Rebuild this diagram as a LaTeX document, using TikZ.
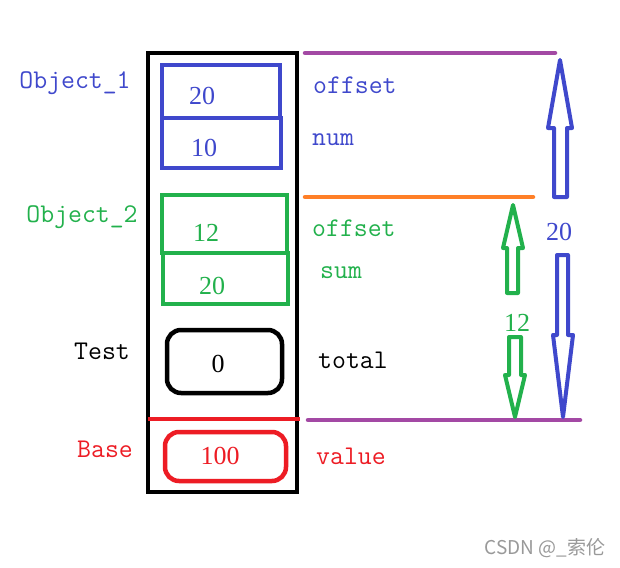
\documentclass[tikz,border=0pt]{standalone}
\usepackage{fontspec}
\newfontfamily\numfont{Liberation Serif}
\newfontfamily\cjk{Noto Sans CJK SC}
\definecolor{pblue}{HTML}{3F48CC}
\definecolor{pgreen}{HTML}{22B14C}
\definecolor{pred}{HTML}{ED1C24}
\definecolor{ppurple}{HTML}{A349A4}
\definecolor{porange}{HTML}{FF7F27}
\begin{document}
\begin{tikzpicture}[x=1pt,y=-1pt,
  txt/.style={font=\ttfamily\fontsize{27}{27}\selectfont, inner sep=0pt},
  num/.style={font=\numfont\fontsize{26}{26}\selectfont, inner sep=0pt},
  cell/.style={line width=4.5, line join=miter},
  sep/.style={line width=4.5, line cap=round},
  barrow/.style={line width=4, line join=round, fill=white}]
\useasboundingbox (0,0) rectangle (620,567);
\fill[white] (0,0) rectangle (620,567);
% outer frame
\draw[line width=4] (148,53) rectangle (297,492);
% Object_1 cells
\draw[cell, draw=pblue] (162,65) rectangle (280,118);
\draw[cell, draw=pblue] (162,118) rectangle (281,168);
% Object_2 cells
\draw[cell, draw=pgreen] (162,195) rectangle (287,253);
\draw[cell, draw=pgreen] (163,253) rectangle (288,304);
% Test cell
\draw[line width=4.5, rounded corners=14] (167,330) rectangle (282,393);
% Base separator and cell
\draw[line width=4, draw=pred] (148,419) -- (300,419);
\draw[line width=4.5, draw=pred, rounded corners=14] (165,432) rectangle (286,481);
% cell values
\node[num, text=pblue] (v1) at (202,96) {20};
\node[num, text=pblue] (v2) at (204,148) {10};
\node[num, text=pgreen] (v3) at (206,233) {12};
\node[num, text=pgreen] (v4) at (212,286) {20};
\node[num] (v5) at (218,364) {0};
\node[num, text=pred] (v6) at (220,456) {100};
% left labels
\node[txt, text=pblue] (o1) at (75,83) {Object\_1};
\node[txt, text=pgreen] (o2) at (82,217) {Object\_2};
\node[txt] (t) at (102,351) {Test};
\node[txt, text=pred] (b) at (105,449) {Base};
% right labels
\node[txt, text=pblue, anchor=west] (f1) at (313,85) {offset};
\node[txt, text=pblue, anchor=west] (f2) at (312,140) {num};
\node[txt, text=pgreen, anchor=west] (f3) at (312,228) {offset};
\node[txt, text=pgreen, anchor=west] (f4) at (320,273) {sum};
\node[txt, anchor=west] (f5) at (318,360) {total};
\node[txt, text=pred, anchor=west] (f6) at (316,456) {value};
% horizontal markers
\draw[sep, draw=ppurple] (305,53) -- (555,53);
\draw[sep, draw=porange] (305,197) -- (533,197);
\draw[sep, draw=ppurple] (308,420) -- (580,420);
% blue block arrows
\draw[barrow, draw=pblue] (554,197) -- (554,128) -- (548,128) -- (560,60) -- (572,128) -- (567,128) -- (567,197) -- cycle;
\draw[barrow, draw=pblue] (557,255) -- (557,335) -- (553,335) -- (563,417) -- (573,335) -- (568,335) -- (568,255) -- cycle;
\node[num, text=pblue] (n20) at (559,232) {20};
% green block arrows
\draw[barrow, draw=pgreen] (507,293) -- (507,248) -- (503,248) -- (513,205) -- (523,248) -- (518,248) -- (518,293) -- cycle;
\draw[barrow, draw=pgreen] (509,337) -- (509,375) -- (505,375) -- (515,417) -- (525,375) -- (521,375) -- (521,337) -- cycle;
\node[num, text=pgreen] (n12) at (517,323) {12};
% watermark
\node[inner sep=0pt, text=black!40, font=\cjk\fontsize{19}{19}\selectfont] (wm) at (545,548) {CSDN @\_索伦};
\end{tikzpicture}
\end{document}
